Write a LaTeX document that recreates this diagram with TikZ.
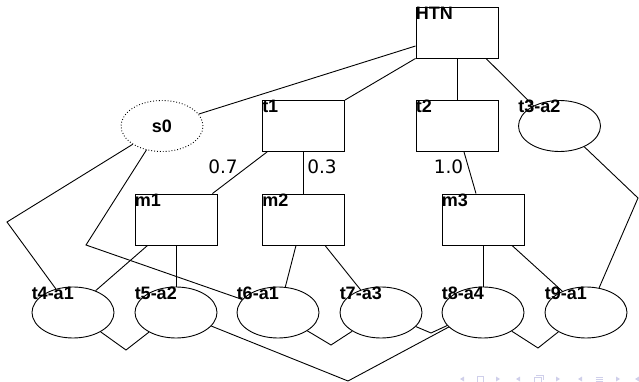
\documentclass[tikz,border=0pt]{standalone}
\usepackage{fontspec}
\setmainfont{Liberation Sans}
\newfontfamily\numfont{DejaVu Sans}
\usetikzlibrary{calc,shapes.geometric}
\definecolor{linec}{HTML}{000000}
\definecolor{navc}{HTML}{CFCFEA}
\tikzset{
  ln/.style={line width=0.9pt,linec},
  tb/.style={draw=linec,line width=0.9pt,minimum width=82pt,minimum height=51pt,inner sep=0pt},
  te/.style={ellipse,draw=linec,line width=0.9pt,minimum width=82pt,minimum height=51pt,inner sep=0pt},
  lb/.style={anchor=north west,inner sep=0pt,font=\fontsize{18}{18}\selectfont\bfseries},
  pr/.style={font=\numfont\fontsize{18.5}{18.5}\selectfont,inner sep=0pt},
  nv/.style={fill=navc,draw=none}
}
\begin{document}
\begin{tikzpicture}[x=1pt,y=-1pt]
\useasboundingbox (0,0) rectangle (639,382);
% tree nodes
\node[tb] (HTN) at (457,32.5) {};
\node[tb] (t1) at (303.5,126) {};
\node[tb] (t2) at (457,126) {};
\node[te] (t3) at (559.5,126) {};
\node[te,dotted] (s0) at (162,126) {};
\node[tb] (m1) at (176,219.5) {};
\node[tb] (m2) at (303.5,219.5) {};
\node[tb] (m3) at (483,219.5) {};
\foreach \nm/\xx in {t4/73,t5/176,t6/278,t7/381,t8/483,t9/586}
  \node[te] (\nm) at (\xx,312.5) {};
% labels
\node[lb] at (HTN.north west) {HTN};
\node[lb] at (t1.north west) {t1};
\node[lb] at (t2.north west) {t2};
\node[lb] at (m1.north west) {m1};
\node[lb] at (m2.north west) {m2};
\node[lb] at (m3.north west) {m3};
\node[lb] at (t3.west |- t3.north) {t3-a2};
\node[lb,anchor=center] at (s0.center) {s0};
\foreach \nm/\tx in {t4/t4-a1,t5/t5-a2,t6/t6-a1,t7/t7-a3,t8/t8-a4,t9/t9-a1}
  \node[lb] at (\nm.west |- \nm.north) {\tx};
\node[pr] (p1) at (223,167) {0.7};
\node[pr] (p2) at (322,167) {0.3};
\node[pr] (p3) at (448.5,167) {1.0};
% corners
\coordinate (k1) at (7,222);
\coordinate (k2) at (86,245);
\coordinate (k3) at (638,198);
\coordinate (k4) at (126,350);
\coordinate (k5) at (348,381);
\coordinate (k6) at (331,345);
\coordinate (k7) at (431,333);
\coordinate (k8) at (538,348);
% edges
\foreach \a/\b in {HTN.south/t2.north,t1.south/m2.north,m1.south/t5.north,m3.south/t8.north}
  \draw[ln] (\a) -- (\b);
\draw[ln] ($(HTN.south west)!0.24!(HTN.north west)$) -- (s0.18);
\draw[ln] (HTN.south west) -- (t1.north east);
\draw[ln] ($(HTN.south west)!0.85!(HTN.south east)$) -- (t3.142);
\draw[ln] ($(t1.south west)+(5,0)$) -- ($(m1.north east)+(-5,0)$);
\draw[ln] ($(t2.south)+(7,0)$) -- ($(m3.north)+(-7,0)$);
\draw[ln] ($(m1.south west)+(13,0)$) -- (t4.44);
\draw[ln] ($(m2.south)+(-7.5,0)$) -- (t6.74);
\draw[ln] ($(m2.south)+(21.5,0)$) -- (t7.132);
\draw[ln] ($(m3.south)+(29,0)$) -- (t9.138);
\draw[ln] (t3.-40) -- (k3) -- (t9.62);
\draw[ln] (s0.212) -- (k1) -- (t4.126);
\draw[ln] (s0.237) -- (k2) -- (t6.160);
\draw[ln] (t4.-35) -- (k4) -- (t5.216);
\draw[ln] (t5.-21) -- (k5) -- (t8.203);
\draw[ln] (t6.-32) -- (k6) -- (t7.213);
\draw[ln] (t7.-22) -- (k7) -- (t8.200);
\draw[ln] (t8.-33) -- (k8) -- (t9.215);
% navigation symbols
\foreach \xx in {462,518,580,637}
  \fill[nv] (\xx-2,379) -- (\xx+2,376.5) -- (\xx+2,381.5) -- cycle;
\foreach \xx in {498,558,618}
  \fill[nv] (\xx+2,379) -- (\xx-2,376.5) -- (\xx-2,381.5) -- cycle;
\draw[navc,line width=0.8pt] (477.5,376.5) rectangle (483,382);
\draw[navc,line width=0.8pt] (534,377) rectangle (541,382) (536,375) -- (543,375) -- (543,380);
\foreach \yy in {377,379,381}
  \draw[navc,line width=0.8pt] (595.5,\yy) -- (602.5,\yy);
\end{tikzpicture}
\end{document}
